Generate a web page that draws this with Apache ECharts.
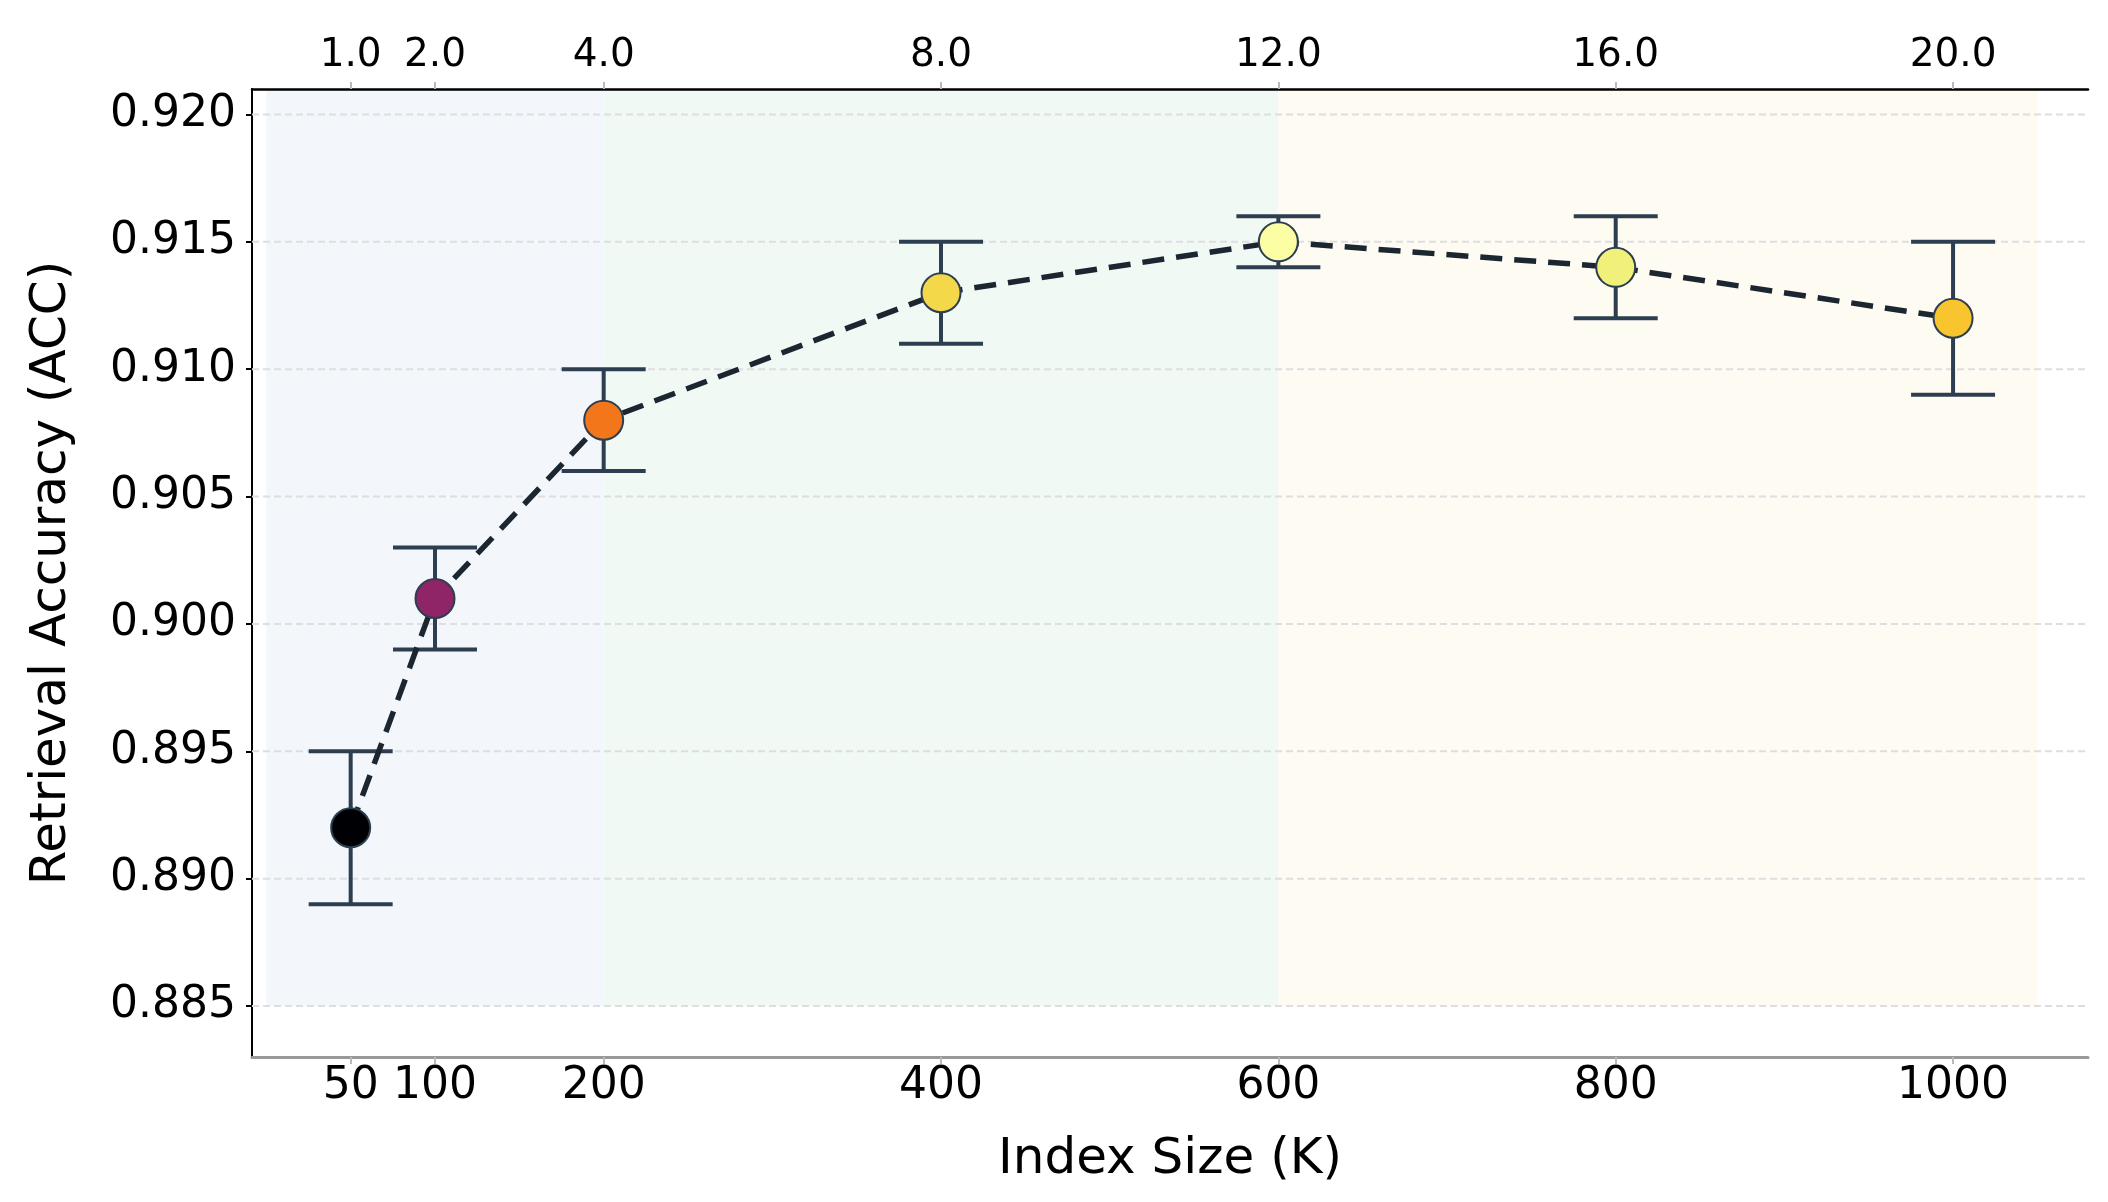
<!DOCTYPE html>
<html><head><meta charset="utf-8">
<script src="https://cdn.jsdelivr.net/npm/echarts@6/dist/echarts.min.js"></script>
<style>html,body{margin:0;padding:0;background:#fff}#c{width:2108px;height:1202px}</style>
</head><body><div id="c"></div>
<script>
// ---- data ----
const indexSizes = [50, 100, 200, 400, 600, 800, 1000];
const accuracy   = [0.892, 0.901, 0.908, 0.913, 0.915, 0.914, 0.912];
const errLow     = [0.889, 0.899, 0.906, 0.911, 0.914, 0.912, 0.909];
const errHigh    = [0.895, 0.903, 0.910, 0.915, 0.916, 0.916, 0.915];
const topTickLabels = ['1.0', '2.0', '4.0', '8.0', '12.0', '16.0', '20.0'];
const yTicks = [0.885, 0.890, 0.895, 0.900, 0.905, 0.910, 0.915, 0.920];
const regimeStart = [0, 200, 600];
const regimeEnd   = [200, 600, 1050];
const regimeFloor = 0.885;

// ---- styling ----
const FONT = 'DejaVu Sans';
const pointColors = ['#000004', '#8f2466', '#f3761b', '#f3d84a', '#fbfea3', '#f1f07a', '#f8c52f'];
const bandColors = ['#f3f6fa', '#f1f9f5', '#fefbf3'];
const X_MIN = -8.5, X_MAX = 1080, Y_MIN = 0.883, Y_MAX = 0.921;

const chart = echarts.init(document.getElementById('c'), null, {renderer: 'canvas'});

const option = {
  animation: false,
  backgroundColor: '#ffffff',
  grid: {left: 252, top: 89, right: 20, bottom: 145, containLabel: false},
  xAxis: [
    {
      type: 'value', position: 'bottom', min: X_MIN, max: X_MAX,
      name: 'Index Size (K)', nameLocation: 'middle', nameGap: 78,
      nameTextStyle: {fontFamily: FONT, fontSize: 50, color: '#000'},
      axisLine: {show: true, onZero: false, lineStyle: {color: '#999999', width: 3}},
      axisTick: {show: true, customValues: indexSizes, length: 7, lineStyle: {color: '#bbbbbb', width: 2}},
      axisLabel: {show: true, customValues: indexSizes, fontFamily: FONT, fontSize: 44, color: '#000', margin: 8,
        formatter: v => String(v)},
      splitLine: {show: false}
    },
    {
      type: 'value', position: 'top', min: X_MIN, max: X_MAX,
      axisLine: {show: true, onZero: false, lineStyle: {color: '#000', width: 2.5}},
      axisTick: {show: true, customValues: indexSizes, length: 7, lineStyle: {color: '#bbbbbb', width: 2}},
      axisLabel: {show: true, customValues: indexSizes, fontFamily: FONT, fontSize: 39, color: '#000', margin: 14,
        formatter: v => topTickLabels[indexSizes.indexOf(v)] || ''},
      splitLine: {show: false}
    }
  ],
  yAxis: {
    type: 'value', min: Y_MIN, max: Y_MAX,
    name: 'Retrieval Accuracy (ACC)', nameLocation: 'middle', nameGap: 175,
    nameTextStyle: {fontFamily: FONT, fontSize: 50, color: '#000'},
    axisLine: {show: true, onZero: false, lineStyle: {color: '#000', width: 2}},
    axisTick: {show: true, customValues: yTicks, length: 6, lineStyle: {color: '#000', width: 2}},
    axisLabel: {show: true, customValues: yTicks, fontFamily: FONT, fontSize: 44, color: '#000', margin: 16,
      formatter: v => v.toFixed(3)},
    splitLine: {show: false}
  },
  series: [
    {
      type: 'custom', name: 'bands', z: 0, silent: true,
      data: regimeStart.map((s, i) => [s, regimeEnd[i]]),
      encode: {x: [0, 1]},
      renderItem: (params, api) => {
        const p0 = api.coord([api.value(0), Y_MAX]);
        const p1 = api.coord([api.value(1), regimeFloor]);
        return {type: 'rect', shape: {x: p0[0], y: p0[1], width: p1[0] - p0[0], height: p1[1] - p0[1]},
          style: {fill: bandColors[params.dataIndex]}};
      }
    },
    {
      type: 'custom', name: 'grid', z: 1, silent: true,
      data: yTicks.map(v => [v]),
      encode: {y: 0},
      renderItem: (params, api) => {
        const cs = params.coordSys;
        const y = api.coord([0, api.value(0)])[1];
        return {type: 'line', shape: {x1: cs.x, y1: y, x2: cs.x + cs.width, y2: y},
          style: {stroke: '#dedede', lineWidth: 2, lineDash: [7, 4]}};
      }
    },
    {
      type: 'custom', name: 'errorbars', z: 2, silent: true,
      data: indexSizes.map((x, i) => [x, errLow[i], errHigh[i]]),
      encode: {x: 0, y: [1, 2]},
      renderItem: (params, api) => {
        const lo = api.coord([api.value(0), api.value(1)]);
        const hi = api.coord([api.value(0), api.value(2)]);
        const hw = 42;
        const st = {stroke: '#2c3e50', lineWidth: 4};
        return {type: 'group', children: [
          {type: 'line', shape: {x1: lo[0], y1: lo[1], x2: hi[0], y2: hi[1]}, style: st},
          {type: 'line', shape: {x1: lo[0] - hw, y1: lo[1], x2: lo[0] + hw, y2: lo[1]}, style: st},
          {type: 'line', shape: {x1: hi[0] - hw, y1: hi[1], x2: hi[0] + hw, y2: hi[1]}, style: st}
        ]};
      }
    },
    {
      type: 'line', name: 'trend', z: 3, silent: true,
      data: indexSizes.map((x, i) => [x, accuracy[i]]),
      smooth: false, showSymbol: false, symbol: 'none',
      lineStyle: {color: '#1b2631', width: 5.5, type: [22, 12]}
    },
    {
      type: 'scatter', name: 'acc', z: 4,
      data: indexSizes.map((x, i) => ({value: [x, accuracy[i]], itemStyle: {color: pointColors[i]}})),
      symbolSize: 39,
      itemStyle: {borderColor: '#2c3e50', borderWidth: 2, opacity: 1}
    }
  ]
};
chart.setOption(option);
</script>
</body></html>
